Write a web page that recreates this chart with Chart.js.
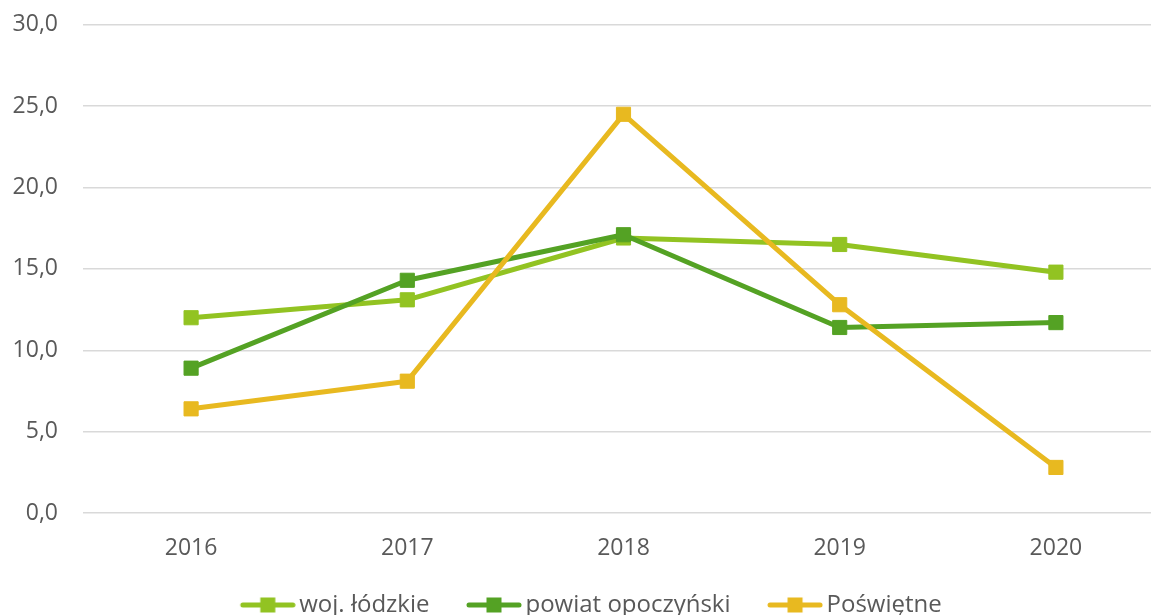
<!DOCTYPE html>
<html>
<head>
<meta charset="utf-8">
<script src="https://cdn.jsdelivr.net/npm/chart.js@4/dist/chart.umd.min.js"></script>
<style>
  html, body { margin: 0; padding: 0; background: #fff; overflow: hidden; }
  #wrap { width: 1151px; height: 615px; overflow: hidden; }
  #chart { display: block; margin-top: -14px; }
</style>
</head>
<body>
<div id="wrap"><canvas id="chart" width="1182" height="641"></canvas></div>
<script>
const years = ['2016', '2017', '2018', '2019', '2020'];
const wojLodzkie = [12.0, 13.1, 16.9, 16.5, 14.8];
const powiatOpoczynski = [8.9, 14.3, 17.1, 11.4, 11.7];
const poswietne = [6.4, 8.1, 24.5, 12.8, 2.8];
const seriesNames = ['woj. łódzkie', 'powiat opoczyński', 'Poświętne'];
const seriesColors = ['#92C322', '#54A224', '#E8B920'];

const FONT = "'Open Sans', sans-serif";
const TEXT = '#595959';

// legend marker: short line with a square in the middle
function legendIcon(color) {
  const c = document.createElement('canvas');
  c.width = 64;
  c.height = 16;
  const g = c.getContext('2d');
  g.strokeStyle = color;
  g.lineWidth = 5;
  g.lineCap = 'round';
  g.beginPath();
  g.moveTo(11, 8);
  g.lineTo(61, 8);
  g.stroke();
  g.fillStyle = color;
  g.fillRect(28.5, 0.5, 15, 15);
  return c;
}

function makeSet(i, data, order) {
  return {
    label: seriesNames[i],
    data,
    order,
    borderColor: seriesColors[i],
    backgroundColor: seriesColors[i],
    borderWidth: 5,
    tension: 0,
    borderJoinStyle: 'round',
    pointStyle: 'rect',
    pointRadius: 10,
    pointHoverRadius: 10,
    pointBorderWidth: 1
  };
}

// the legend sits a little right of the centre, as in the original
const legendShift = {
  id: 'legendShift',
  afterLayout(chart) {
    chart.legend.left += 5;
    chart.legend.right += 5;
  }
};

function displayChart() {
  const ctx = document.getElementById('chart');

  new Chart(ctx, {
    type: 'line',
    data: {
      labels: years,
      datasets: [
        makeSet(0, wojLodzkie, 3),
        makeSet(1, powiatOpoczynski, 2),
        makeSet(2, poswietne, 1)
      ]
    },
    options: {
      responsive: false,
      animation: false,
      devicePixelRatio: 1,
      layout: { padding: { left: 8, right: 18, top: 0, bottom: 0 } },
      scales: {
        x: {
          offset: true,
          grid: { display: false, drawTicks: false },
          border: { display: false },
          ticks: { color: TEXT, font: { family: FONT, size: 23 }, padding: 22 },
          afterFit: s => { s.height = 43; }
        },
        y: {
          min: 0,
          max: 30,
          grid: { color: '#d9d9d9', lineWidth: 1.5, drawTicks: false },
          border: { display: false },
          ticks: {
            stepSize: 5,
            padding: 25,
            color: TEXT,
            font: { family: FONT, size: 23 },
            callback: v => v.toFixed(1).replace('.', ',')
          },
          afterFit: s => { s.width = 75; }
        }
      },
      plugins: {
        tooltip: { enabled: false },
        legend: {
          position: 'bottom',
          labels: {
            usePointStyle: true,
            pointStyleWidth: 47,
            padding: 37,
            color: TEXT,
            font: { family: FONT, size: 24 },
            generateLabels: chart => chart.data.datasets.map((ds, i) => ({
              text: ds.label,
              fillStyle: ds.borderColor,
              strokeStyle: ds.borderColor,
              lineWidth: 0,
              pointStyle: legendIcon(ds.borderColor),
              fontColor: TEXT,
              hidden: false,
              datasetIndex: i
            }))
          }
        }
      }
    },
    plugins: [legendShift]
  });
}

displayChart();
</script>
</body>
</html>
